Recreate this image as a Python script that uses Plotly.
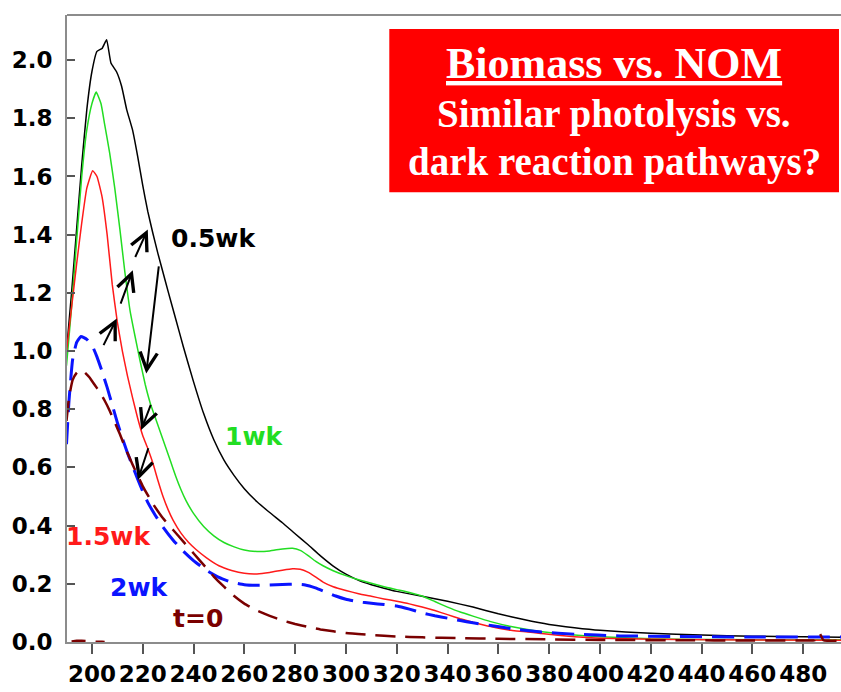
import plotly.graph_objects as go

# Absorbance spectra (wavelength in nm) for each sampling time
wl_05wk = [190, 192, 194, 196, 198, 200, 202, 204, 205.8, 207.5, 209.7, 211.7, 213.7, 216, 218, 220,
           222, 224, 226, 228, 230, 233, 236, 240, 244, 248, 252, 256, 260, 265, 270, 275, 280, 285,
           290, 295, 300, 305, 310, 315, 320, 330, 340, 350, 360, 370, 380, 390, 400, 420, 440, 460,
           480, 495]
abs_05wk = [1.0, 1.2, 1.42, 1.64, 1.83, 1.96, 2.03, 2.04, 2.07, 1.99, 1.96, 1.91, 1.83, 1.76, 1.67, 1.57,
            1.48, 1.405, 1.335, 1.27, 1.205, 1.11, 1.015, 0.895, 0.785, 0.695, 0.625, 0.572, 0.527, 0.482,
            0.445, 0.41, 0.372, 0.335, 0.296, 0.261, 0.233, 0.212, 0.197, 0.185, 0.174, 0.157, 0.14, 0.12,
            0.097, 0.077, 0.06, 0.049, 0.04, 0.03, 0.024, 0.02, 0.018, 0.016]

wl_1wk = [190, 192, 194, 196, 198, 200, 201.7, 203.6, 205, 207, 209, 211, 213, 215, 217, 219, 221, 223,
          225, 227, 229, 231, 233, 235, 237, 240, 244, 248, 252, 256, 260, 265, 270, 275, 279, 282, 285,
          288, 291, 295, 300, 305, 310, 315, 320, 325, 330, 335, 340, 345, 350, 357, 365, 375, 390, 400,
          420, 440, 460, 495]
abs_1wk = [0.95, 1.15, 1.38, 1.6, 1.76, 1.85, 1.89, 1.85, 1.78, 1.68, 1.56, 1.42, 1.27, 1.14, 1.05, 0.965,
           0.885, 0.82, 0.77, 0.72, 0.67, 0.62, 0.57, 0.525, 0.487, 0.442, 0.397, 0.365, 0.342, 0.327, 0.316,
           0.311, 0.313, 0.32, 0.322, 0.315, 0.298, 0.278, 0.262, 0.245, 0.228, 0.214, 0.202, 0.19, 0.18,
           0.17, 0.158, 0.139, 0.12, 0.103, 0.089, 0.07, 0.053, 0.038, 0.024, 0.018, 0.011, 0.009, 0.008, 0.008]

wl_15wk = [190, 192, 194, 196, 198, 200.3, 202, 204, 206, 208, 210, 212, 214, 216, 218, 220, 222, 224,
           226, 228, 230, 232, 235, 238, 241, 245, 250, 255, 260, 265, 270, 275, 279, 282, 285, 288, 291,
           295, 300, 305, 310, 315, 320, 325, 330, 335, 340, 345, 350, 357, 365, 377, 390, 400, 430, 460,
           495]
abs_15wk = [1.0, 1.15, 1.3, 1.44, 1.56, 1.62, 1.6, 1.53, 1.4, 1.23, 1.1, 1.0, 0.915, 0.84, 0.77, 0.71,
            0.665, 0.615, 0.555, 0.5, 0.455, 0.418, 0.375, 0.343, 0.318, 0.29, 0.262, 0.246, 0.236, 0.234,
            0.239, 0.247, 0.252, 0.25, 0.24, 0.224, 0.206, 0.19, 0.177, 0.166, 0.157, 0.148, 0.14, 0.131,
            0.12, 0.108, 0.094, 0.08, 0.068, 0.053, 0.04, 0.029, 0.018, 0.013, 0.009, 0.007, 0.006]

wl_2wk = [190, 191, 192.4, 194, 195.7, 198, 200.3, 202, 204, 206, 208, 210, 212, 214, 216, 218, 220, 222,
          225, 228, 232, 236, 240, 245, 250, 255, 260, 265, 270, 275, 280, 284, 288, 292, 296, 300, 305,
          310, 315, 320, 325, 330, 335, 340, 345, 350, 357, 365, 377, 390, 408, 430, 460, 495]
abs_2wk = [0.68, 0.83, 0.97, 1.03, 1.05, 1.04, 1.015, 0.98, 0.93, 0.875, 0.815, 0.755, 0.7, 0.65, 0.605,
           0.56, 0.518, 0.48, 0.435, 0.395, 0.35, 0.312, 0.28, 0.247, 0.222, 0.205, 0.197, 0.195, 0.196,
           0.198, 0.199, 0.196, 0.186, 0.172, 0.158, 0.147, 0.138, 0.133, 0.129, 0.124, 0.113, 0.1, 0.09,
           0.082, 0.074, 0.066, 0.057, 0.046, 0.034, 0.027, 0.021, 0.019, 0.017, 0.017]

wl_t0 = [190, 191, 192.4, 194, 195.4, 197, 199, 201, 203, 205, 207, 209, 211, 213, 216, 220, 224, 228,
         232, 236, 240, 244, 248, 252, 256, 260, 265, 270, 275, 280, 285, 290, 300, 310, 320, 330, 345,
         360, 380, 400, 430, 460, 480, 484.5, 486.3, 488, 490, 495]
abs_t0 = [0.76, 0.84, 0.9, 0.925, 0.935, 0.928, 0.91, 0.885, 0.86, 0.83, 0.795, 0.755, 0.715, 0.67, 0.61,
          0.536, 0.475, 0.425, 0.385, 0.345, 0.305, 0.265, 0.225, 0.19, 0.158, 0.132, 0.108, 0.09, 0.074,
          0.062, 0.052, 0.043, 0.031, 0.024, 0.019, 0.016, 0.013, 0.011, 0.009, 0.007, 0.006, 0.005, 0.005,
          0.006, 0.032, 0.006, 0.004, 0.004]

# short blank-baseline trace near zero at low wavelengths
wl_blank = [192, 194, 196, 198, 200, 202, 204, 205]
abs_blank = [0.002, 0.004, 0.004, 0.003, 0.002, 0.001, 0.001, 0.0]

x_ticks = list(range(200, 481, 20))
y_ticks = [0.0, 0.2, 0.4, 0.6, 0.8, 1.0, 1.2, 1.4, 1.6, 1.8, 2.0]

series = [
    ("0.5wk", wl_05wk, abs_05wk, "#000000", 1.5, "solid"),
    ("1wk", wl_1wk, abs_1wk, "#22dd22", 1.5, "solid"),
    ("1.5wk", wl_15wk, abs_15wk, "#ff1a1a", 1.5, "solid"),
    ("2wk", wl_2wk, abs_2wk, "#0a14ff", 3, "22px,10px"),
    ("t=0", wl_t0, abs_t0, "#7a0000", 2.5, "20px,10px"),
    ("blank", wl_blank, abs_blank, "#7a0000", 2.5, "14px,10px"),
]

fig = go.Figure()
for name, xs, ys, color, width, dash in series:
    fig.add_trace(go.Scatter(
        x=xs, y=ys, mode="lines", name=name,
        line=dict(color=color, width=width, dash=dash, shape="spline", smoothing=0.4),
        showlegend=False,
    ))

# curve labels
curve_labels = [
    ("0.5wk", 248, 1.388, "#000000"),
    ("1wk", 263.9, 0.708, "#22dd22"),
    ("1.5wk", 206.5, 0.361, "#ff1a1a"),
    ("2wk", 218.7, 0.189, "#0a14ff"),
    ("t=0", 241.6, 0.082, "#7a0000"),
]
annotations = []
for text, x, y, color in curve_labels:
    annotations.append(dict(
        x=x, y=y, xref="x", yref="y", text=f"<b>{text}</b>", showarrow=False,
        font=dict(family="DejaVu Sans", size=25, color=color),
        xanchor="center", yanchor="middle",
    ))

# arrows showing the direction of change (head x, head y, tail x, tail y)
arrow_specs = [
    (209.8, 1.112, 204.3, 1.015),
    (216.1, 1.278, 211.1, 1.158),
    (222.0, 1.418, 216.8, 1.318),
    (221.4, 0.923, 226.4, 1.296),
    (219.4, 0.729, 223.4, 0.82),
    (218.1, 0.557, 222.4, 0.671),
]
for hx, hy, tx, ty in arrow_specs:
    annotations.append(dict(
        x=hx, y=hy, ax=tx, ay=ty, xref="x", yref="y", axref="x", ayref="y",
        text="", showarrow=True, arrowhead=5, arrowsize=1.7, arrowwidth=2, arrowcolor="#000000",
        standoff=0, startstandoff=0,
    ))

# red call-out box text
box_cx = 0.7068
serif = "Liberation Serif, Times New Roman"
annotations.append(dict(
    x=box_cx, y=0.9234, xref="paper", yref="paper", showarrow=False,
    text="<b><u>Biomass vs. NOM</u></b>",
    font=dict(family=serif, size=44, color="white"),
    xanchor="center", yanchor="middle",
))
annotations.append(dict(
    x=box_cx, y=0.842, xref="paper", yref="paper", showarrow=False,
    text="<b>Similar photolysis vs.</b>",
    font=dict(family=serif, size=39, color="white"),
    xanchor="center", yanchor="middle",
))
annotations.append(dict(
    x=box_cx, y=0.766, xref="paper", yref="paper", showarrow=False,
    text="<b>dark reaction pathways?</b>",
    font=dict(family=serif, size=39, color="white"),
    xanchor="center", yanchor="middle",
))

shapes = [
    dict(type="rect", xref="paper", yref="paper", x0=0.4164, x1=0.9974, y0=0.7172, y1=0.9777,
         fillcolor="#ff0000", line=dict(width=0), layer="above"),
    dict(type="line", xref="paper", yref="paper", x0=0, x1=1, y0=1, y1=1,
         line=dict(color="#8c8c8c", width=2)),
]

tick_font = dict(family="DejaVu Sans", size=23, color="black", weight="bold")

fig.update_layout(
    width=841, height=692,
    margin=dict(l=67, r=0, t=15, b=50),
    paper_bgcolor="white", plot_bgcolor="white",
    annotations=annotations, shapes=shapes,
    xaxis=dict(
        range=[190.2, 494.9], tickvals=x_ticks, ticktext=[str(v) for v in x_ticks],
        ticks="outside", ticklen=10, tickwidth=1.5, tickcolor="#555555",
        showline=True, linecolor="#8c8c8c", linewidth=2, showgrid=False, zeroline=False,
        tickfont=tick_font,
    ),
    yaxis=dict(
        range=[0, 2.155], tickvals=y_ticks, ticktext=[f"{v:.1f}" for v in y_ticks],
        ticks="inside", ticklen=8, tickwidth=1.5, tickcolor="#555555",
        showline=True, linecolor="#8c8c8c", linewidth=2, showgrid=False, zeroline=False,
        tickfont=tick_font, ticklabelstandoff=8,
    ),
)

fig.write_html("out.html")
